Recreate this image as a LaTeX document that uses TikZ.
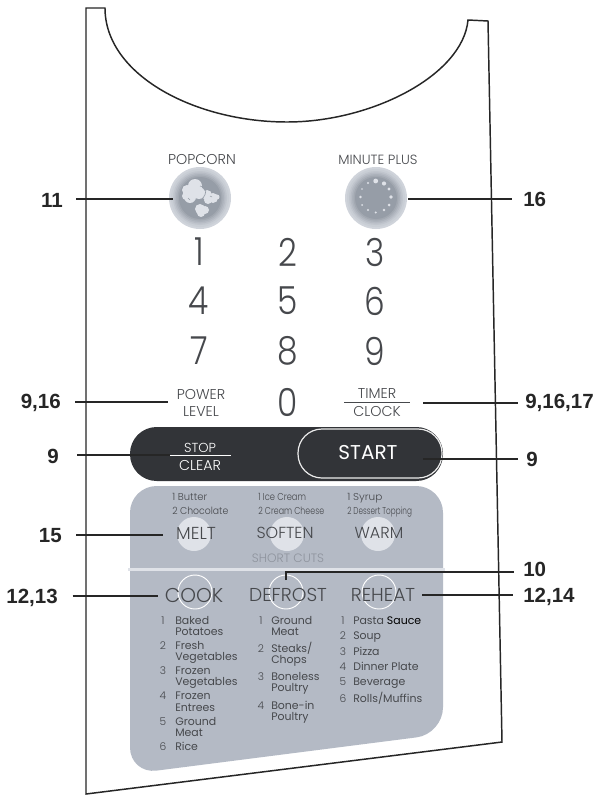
\documentclass[tikz,border=0pt]{standalone}
\usepackage{fontspec}
\setmainfont{Poppins}[UprightFont=* Light]
\newfontfamily\labfont{Liberation Sans}
\newfontfamily\regfont{Poppins}
\definecolor{panelgray}{RGB}{180,186,197}
\definecolor{darkpanel}{RGB}{50,52,56}
\definecolor{softdisc}{RGB}{223,226,232}
\definecolor{txtgray}{RGB}{70,72,76}
\definecolor{btngray}{RGB}{150,157,167}
\definecolor{btnrim}{RGB}{208,212,219}
\definecolor{cutgray}{RGB}{142,147,157}
\newcommand{\fs}[1]{\fontsize{#1}{#1}\selectfont}
\tikzset{
 outline/.style={draw=black!85,line width=1.1pt,line join=miter},
 lead/.style={draw=black!85,line width=0.8pt},
 ref/.style={font=\labfont\bfseries\fs{15.4},text=black!85,inner sep=0pt},
 digit/.style={font=\fs{29},text=txtgray,inner sep=0pt},
 btnlab/.style={font=\fs{10.7},text=txtgray,inner sep=0pt},
 big/.style={text=txtgray,inner sep=0pt},
 small/.style={font=\fs{7.5},text=txtgray,inner sep=0pt,anchor=base west},
 menu/.style={font=\regfont\fs{8.2},text=txtgray,inner sep=0pt,anchor=base west},
 numb/.style={font=\fs{8},text=txtgray,inner sep=0pt,anchor=base},
}
\begin{document}
\begin{tikzpicture}[x=0.75pt,y=-0.75pt]
\useasboundingbox (0,0) rectangle (596,795);
\fill[white] (0,0) rectangle (596,795);
% housing
\draw[outline] (105,8) -- (86,8) -- (86,794) -- (502,742) -- (488,21) -- (468,20)
  .. controls (463,75) and (372,122) .. (287,122) .. controls (195,122) and (105,75) .. (105,8) -- cycle;
% panels
\fill[panelgray,rounded corners=20pt] (130,486) -- (443,486) -- (443,734) -- (130,774) -- cycle;
\fill[darkpanel,rounded corners=20pt] (130,427) rectangle (443,481);
\draw[white!92!black,line width=0.9pt,rounded corners=18pt] (298,429) rectangle (442,478);
% big buttons
\foreach \c in {200,376}{
 \fill[btnrim] (\c,198) circle[radius=31];
 \foreach \r/\m in {29/12,27/28,25.5/45,24/62,22.5/80,21/100}{
  \fill[btngray!\m!btnrim] (\c,198) circle[radius=\r];
 }
}
% popcorn
\fill[softdisc] (187,190) circle[radius=5] (195,186) circle[radius=7] (199,193) circle[radius=6]
  (190,197) circle[radius=6] (186,196) circle[radius=4];
\fill[softdisc] (207,195) circle[radius=5] (213,198) circle[radius=5] (208,200) circle[radius=4] (217,197) circle[radius=2.5];
\fill[softdisc] (200,209) circle[radius=5] (205,210) circle[radius=4] (201,213) circle[radius=4];
\draw[btngray,line width=0.5pt] (205,187) .. controls (207,192) and (205,197) .. (200,201);
\draw[btngray,line width=0.4pt] (188,198) -- (190,200) (200,186) -- (203,187) (210,196) -- (212,197);
% dotted circle
\foreach \x/\y/\r in {375.7/181/2.4,384/183.5/2.1,389/189/1.6,391/197/1.9,389/205/1.5,384/210/1.4,375.7/212.5/1.2,368/210/1.2,362/205/1,360.5/197/1.4,362/189/.9,368/183/1.2}{
 \fill[softdisc] (\x,\y) circle[radius=\r];
}
\node[btnlab] (pop) at (202,160) {POPCORN};
\node[btnlab,font=\fs{10}] (minp) at (378,160) {MINUTE PLUS};
% digits
\node[digit] (d1) at (199,252) {\scalebox{.85}[1]{1}};
\node[digit] (d2) at (288,252) {\scalebox{.85}[1]{2}};
\node[digit] (d3) at (375,252) {\scalebox{.85}[1]{3}};
\node[digit] (d4) at (199,301) {\scalebox{.85}[1]{4}};
\node[digit] (d5) at (288,301) {\scalebox{.85}[1]{5}};
\node[digit] (d6) at (375,301) {\scalebox{.85}[1]{6}};
\node[digit] (d7) at (199,351) {\scalebox{.85}[1]{7}};
\node[digit] (d8) at (288,351) {\scalebox{.85}[1]{8}};
\node[digit] (d9) at (375,351) {\scalebox{.85}[1]{9}};
\node[digit] (d0) at (288,402) {\scalebox{.85}[1]{0}};
\node[btnlab] (pow) at (201,395) {POWER};
\node[btnlab] (lev) at (201,412) {LEVEL};
\node[btnlab] (tim) at (377,394) {TIMER};
\node[btnlab] (clk) at (377,412) {CLOCK};
\draw[txtgray,line width=0.7pt] (344,402) -- (410,402);
% stop/start
\node[btnlab,text=white,font=\fs{9.8}] (stop) at (200,448) {STOP};
\node[btnlab,text=white] (clr) at (200,465) {CLEAR};
\draw[white,line width=0.7pt] (169,455) -- (231,455);
\node[font=\regfont\fs{15},text=white,inner sep=0pt] (start) at (368,453) {START};
% discs
\fill[softdisc] (194,534) circle[radius=17];
\fill[softdisc] (287,534) circle[radius=17];
\fill[softdisc] (378,534) circle[radius=17];
\node[big,font=\fs{13}] (melt) at (196,533) {MELT};
\node[big,font=\fs{12}] (soften) at (285,533) {SOFTEN};
\node[big,font=\fs{12}] (warm) at (379,533) {WARM};
\node[small] at (172,500) {\scalebox{1}[1]{1 Butter}};
\node[small] at (172,514) {\scalebox{.93}[1]{2 Chocolate}};
\node[small] at (258,500) {\scalebox{.83}[1]{1 Ice Cream}};
\node[small] at (258,514) {\scalebox{.79}[1]{2 Cream Cheese}};
\node[small] at (347,500) {\scalebox{1.05}[1]{1 Syrup}};
\node[small] at (347,514) {\scalebox{.73}[1]{2 Dessert Topping}};
\node[font=\fs{9.1},text=cutgray,inner sep=0pt] (sc) at (288,558.5) {SHORT CUTS};
\fill[softdisc] (128,568) rectangle (445,570.5);
\foreach \c in {195,286,379}{
 \draw[white,line width=0.7pt] (\c,592) circle[radius=17];
}
\node[big,font=\fs{15}] (cook) at (194,595) {COOK};
\node[big,font=\fs{14}] (defr) at (288,595) {DEFROST};
\node[big,font=\fs{14}] (reh) at (383,595) {REHEAT};
% menus: first column
\foreach \y/\n in {624/1,649/2,674/3,699/4,725/5,750/6}{\node[numb] at (163,\y) {\n};}
\foreach \y/\t in {624/Baked,635/Potatoes,649/Fresh,660/Vegetables,674/Frozen,685/Vegetables,699/Frozen,711/Entrees,725/Ground,736/Meat,750/Rice}{\node[menu] at (175,\y) {\t};}
% second column
\foreach \y/\n in {624/1,652/2,680/3,709/4}{\node[numb] at (261,\y) {\n};}
\foreach \y/\t in {624/Ground,635/Meat,652/Steaks\slash,663/Chops,680/Boneless,691/Poultry,709/Bone-in,720/Poultry}{\node[menu] at (271,\y) {\t};}
% third column
\foreach \y/\n in {624/1,639/2,655/3,670/4,685/5,702/6}{\node[numb] at (343,\y) {\n};}
\node[menu] at (353,624) {Pasta {\color{black}Sauce}};
\foreach \y/\t in {639/Soup,655/Pizza,670/Dinner Plate,685/Beverage,702/Rolls\slash Muffins}{\node[menu] at (353,\y) {\t};}
% reference labels
\node[ref,anchor=east] (r11) at (63,200.5) {11};
\node[ref,anchor=west] (r16) at (523,199.5) {16};
\node[ref,anchor=east] (r916a) at (61,403) {9,16};
\node[ref,anchor=west] (r91617) at (525,402.5) {9,16,17};
\node[ref,anchor=east] (r9a) at (59,456) {9};
\node[ref,anchor=west] (r9b) at (526,459.5) {9};
\node[ref,anchor=east] (r15) at (62,536) {15};
\node[ref,anchor=west] (r10) at (523,569) {10};
\node[ref,anchor=east] (r1213) at (58,598) {12,13};
\node[ref,anchor=west] (r1214) at (523,597) {12,14};
\coordinate (c11) at (173,199); \coordinate (c16) at (408,199);
\coordinate (c916) at (168,402); \coordinate (c91617) at (423,403);
\coordinate (c9a) at (170,455); \coordinate (c9b) at (423,459);
\coordinate (c15) at (163,535); \coordinate (c1213) at (158,596); \coordinate (c1214) at (422,595);
\coordinate (c10) at (286,580); \coordinate (c10b) at (286,572);
\draw[lead,shorten <=9.75pt] (r11.east |- c11) -- (c11);
\draw[lead,shorten >=8.25pt] (c16) -- (r16.west |- c16);
\draw[lead,shorten <=10.5pt] (r916a.east |- c916) -- (c916);
\draw[lead,shorten >=5.5pt] (c91617) -- (r91617.west |- c91617);
\draw[lead,shorten <=13.5pt] (r9a.east |- c9a) -- (c9a);
\draw[lead,shorten >=6pt] (c9b) -- (r9b.west |- c9b);
\draw[lead,shorten <=10.5pt] (r15.east |- c15) -- (c15);
\draw[lead,shorten <=11pt] (r1213.east |- c1213) -- (c1213);
\draw[lead,shorten >=7.5pt] (c1214) -- (r1214.west |- c1214);
\draw[lead,shorten >=6.75pt] (c10) -- (c10b) -- (r10.west |- c10b);
\end{tikzpicture}
\end{document}
